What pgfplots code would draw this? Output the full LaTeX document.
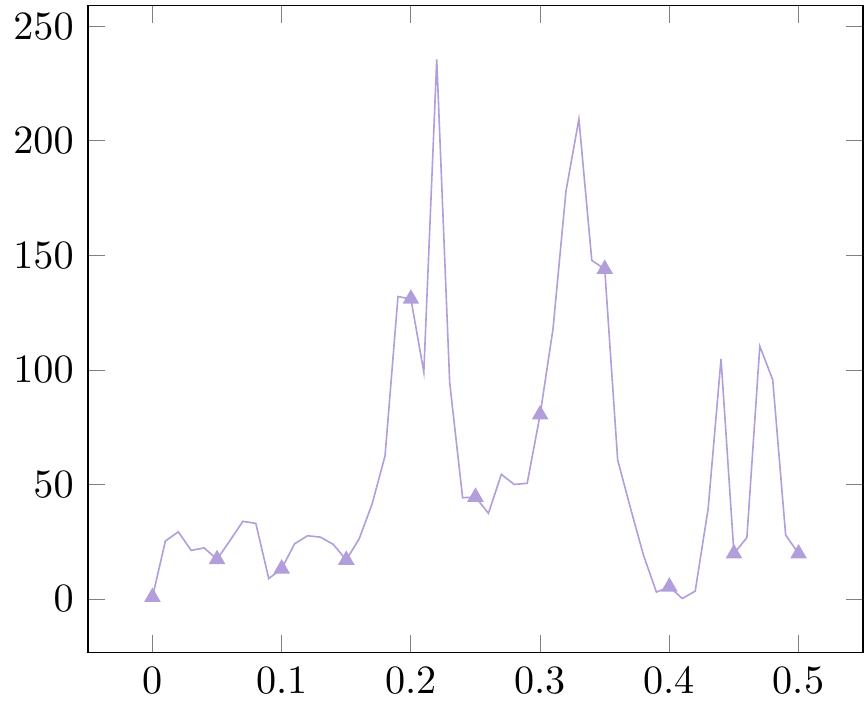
\documentclass[border=0pt]{standalone}
\usepackage{pgfplots}
\pgfplotsset{compat=1.18}
\definecolor{lav}{RGB}{177,158,219}
\begin{document}
\begin{tikzpicture}
\begin{axis}[
  scale only axis,
  width=193pt, height=161pt,
  xtick={0,0.1,0.2,0.3,0.4,0.5},
  ytick={0,50,100,150,200,250},
  xticklabels={0,0.1,0.2,0.3,0.4,0.5},
]
\addplot[color=lav, mark=triangle*, mark repeat=5, mark options={fill=lav}] coordinates {
(0.00,0.8) (0.01,25.3) (0.02,29.3) (0.03,21.2) (0.04,22.3) (0.05,17.3)
(0.06,25.5) (0.07,33.9) (0.08,33.0) (0.09,8.9) (0.10,13.2)
(0.11,24.1) (0.12,27.6) (0.13,27.0) (0.14,23.8) (0.15,17.0)
(0.16,26.3) (0.17,41.5) (0.18,62.5) (0.19,132) (0.20,131)
(0.21,99) (0.22,235.5) (0.23,94.6) (0.24,44.2) (0.25,44.5)
(0.26,37.4) (0.27,54.4) (0.28,50.0) (0.29,50.5) (0.30,80.5)
(0.31,118) (0.32,178) (0.33,209.5) (0.34,147.8) (0.35,144)
(0.36,60.7) (0.37,39.5) (0.38,19.1) (0.39,3.0) (0.40,5.3)
(0.41,0.2) (0.42,3.4) (0.43,39.3) (0.44,104.8) (0.45,19.8)
(0.46,26.8) (0.47,110.3) (0.48,95.7) (0.49,27.9) (0.50,19.8)
};
\end{axis}
\end{tikzpicture}
\end{document}
